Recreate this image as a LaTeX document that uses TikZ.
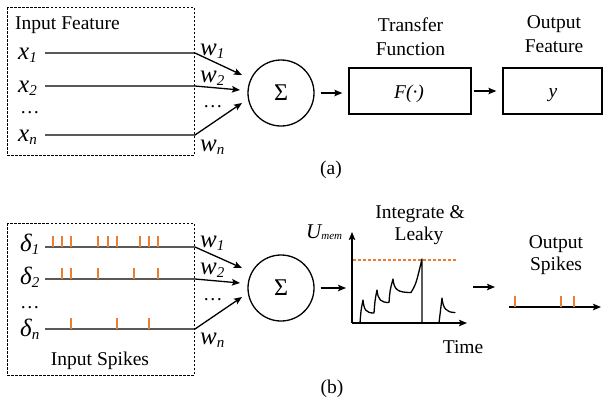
\documentclass[tikz,border=0pt]{standalone}
\usepackage{fontspec}
\setmainfont{Liberation Serif}
\usetikzlibrary{arrows.meta}
\definecolor{spikeorange}{RGB}{237,125,49}
% italic symbol with a lowered italic index
\newcommand\idxvar[2]{{\fontsize{25}{25}\selectfont\itshape #1\raisebox{-0.28ex}{\fontsize{15}{15}\selectfont #2}}}

\begin{document}
\begin{tikzpicture}[x=1pt,y=-1pt,
  every node/.style={inner sep=0pt, font=\fontsize{19.5}{22}\selectfont},
  lbl/.style={anchor=base},
  lblw/.style={anchor=base west},
  arr/.style={line width=1.3pt,-{Stealth[length=8pt,width=6.5pt,inset=1.5pt]}},
  group/.style={draw, dash pattern=on 2.5pt off 1.5pt, line width=0.7pt},
  block/.style={draw, line width=1.3pt, minimum height=46pt},
  sumnode/.style={draw, circle, line width=1.3pt, minimum size=66pt, font=\fontsize{24}{24}\selectfont},
  spike/.style={spikeorange, line width=1.6pt},
  curve/.style={line width=1.3pt, line join=round, line cap=round},
]
\useasboundingbox (0,0) rectangle (603,408);

% ---------------- (a) artificial neuron ----------------
\draw[group] (7,7) rectangle (194,155);
\node[lbl] (inf) at (67.5,29) {Input Feature};

\node[lblw] (x1) at (18,59) {\idxvar{x}{1}};
\node[lblw] (x2) at (18,92) {\idxvar{x}{2}};
\node[lblw] (xd) at (20,113) {…};
\node[lblw] (xn) at (18,141) {\idxvar{x}{n}};

\node[lblw] (wa1) at (200,55) {\idxvar{w}{1}};
\node[lblw] (wa2) at (200,82) {\idxvar{w}{2}};
\node[lblw] (wad) at (203,107) {…};
\node[lblw] (wan) at (200,151) {\idxvar{w}{n}};

\node[sumnode] (sa) at (281,93) {Σ};

\coordinate (a1s) at (45,53);  \coordinate (a1b) at (195,53);  \coordinate (a1t) at (242,75);
\coordinate (a2s) at (45,86);  \coordinate (a2b) at (195,86);  \coordinate (a2t) at (240,90);
\coordinate (ans) at (45,135); \coordinate (anb) at (195,135); \coordinate (ant) at (242,103);
\draw[arr] (a1s) -- (a1b) -- (a1t);
\draw[arr] (a2s) -- (a2b) -- (a2t);
\draw[arr] (ans) -- (anb) -- (ant);

\node[block, minimum width=122pt] (F) at (410,91) {};
\node[lbl] (Ft) at (409,98) {\itshape F(·)};
\node[block, minimum width=99pt] (Y) at (552.5,91) {};
\node[lbl] (Yt) at (553,97) {\itshape y};

\node[lbl] (tf1) at (410.5,31) {Transfer};
\node[lbl] (tf2) at (410.5,55) {Function};
\node[lbl] (of1) at (554,28) {Output};
\node[lbl] (of2) at (554,52) {Feature};

\draw[arr, shorten <=6pt, shorten >=6pt] (sa.east) -- (sa.east -| F.west);
\draw[arr, shorten <=2pt, shorten >=6pt] (F.east) -- (Y.west);

\node (capa) at (331,170) {(a)};

% ---------------- (b) spiking neuron ----------------
\draw[group] (7,223) rectangle (194,375);
\node[lbl] (ins) at (100,365) {Input Spikes};

\node[lblw] (d1) at (20,251) {\idxvar{δ}{1}};
\node[lblw] (d2) at (20,284) {\idxvar{δ}{2}};
\node[lblw] (dd) at (20,308) {…};
\node[lblw] (dn) at (20,336) {\idxvar{δ}{n}};

\node[lblw] (wb1) at (200,247) {\idxvar{w}{1}};
\node[lblw] (wb2) at (200,274) {\idxvar{w}{2}};
\node[lblw] (wbd) at (203,300) {…};
\node[lblw] (wbn) at (200,344) {\idxvar{w}{n}};

\node[sumnode] (sb) at (281,288) {Σ};

\coordinate (b1s) at (45,247);  \coordinate (b1b) at (195,247);  \coordinate (b1t) at (242,268);
\coordinate (b2s) at (45,279);  \coordinate (b2b) at (195,279);  \coordinate (b2t) at (240,283);
\coordinate (bns) at (45,329);  \coordinate (bnb) at (195,329);  \coordinate (bnt) at (242,297);
\draw[arr] (b1s) -- (b1b) -- (b1t);
\draw[arr] (b2s) -- (b2b) -- (b2t);
\draw[arr] (bns) -- (bnb) -- (bnt);

% input spike trains
\foreach \t in {53,62,71,98,108,117,140,149,158} \draw[spike] (\t,236) -- (\t,247);
\foreach \t in {62,71,98,134,158} \draw[spike] (\t,268) -- (\t,279);
\foreach \t in {71,117,149} \draw[spike] (\t,318) -- (\t,329);

% membrane potential plot
\coordinate (org) at (352,323);
\coordinate (ytop) at (352,232);
\coordinate (xend) at (467,323);
\draw[arr, shorten <=6pt, shorten >=6pt] (sb.east) -- (sb.east -| org);
\draw[arr] (org) -- (ytop);
\draw[arr] (org) -- (xend);
\draw[spikeorange, line width=1.2pt, dash pattern=on 3pt off 2pt] (353,260) -- (457,260);
\draw[curve] (360,323) .. controls (361,310) .. (363,300)
  .. controls (364,310) and (366,313) .. (374,313)
  .. controls (375,300) .. (377,290)
  .. controls (378,300) and (381,302.5) .. (389,302.5)
  .. controls (390,290) .. (393,279)
  .. controls (394,290) and (398,292.5) .. (411,292.5)
  .. controls (416,284) .. (422,259) -- (422,323);
\draw[curve] (439,323) .. controls (440,310) .. (442,298)
  .. controls (443,308) and (446,312.5) .. (455,312.5);

\node[lblw] (um) at (306,238) {{\fontsize{21}{21}\selectfont\itshape U}\raisebox{-0.2ex}{\fontsize{11}{11}\selectfont\itshape mem}};
\node[lbl] (il1) at (420,218) {Integrate \&};
\node[lbl] (il2) at (419,240) {Leaky};
\node[lbl] (tm) at (463,353) {Time};

% output spikes
\coordinate (o1) at (473,287);
\coordinate (o2) at (495,287);
\draw[arr] (o1) -- (o2);
\coordinate (os) at (509,307);
\coordinate (oe) at (601,307);
\draw[arr] (os) -- (oe);
\foreach \t in {515,561,574} \draw[spike] (\t,296) -- (\t,307);
\node[lbl] (os1) at (556,248) {Output};
\node[lbl] (os2) at (556,270) {Spikes};

\node (capb) at (332,389) {(b)};
\end{tikzpicture}
\end{document}
